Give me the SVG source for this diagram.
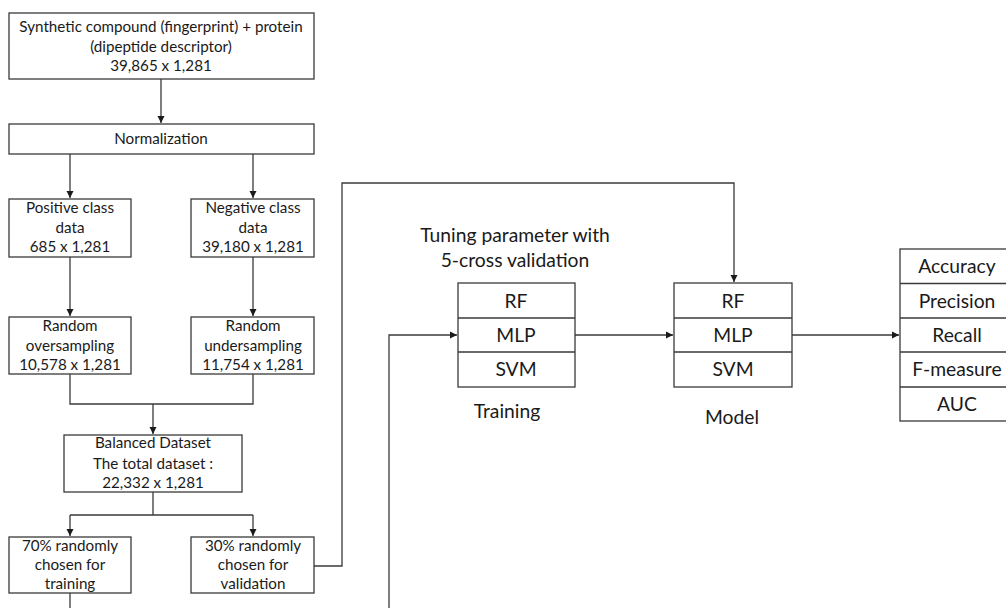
<svg xmlns="http://www.w3.org/2000/svg" width="1006" height="608" viewBox="0 0 1006 608">
<style>
.box{fill:#fff;stroke:#3a3a3a;stroke-width:1.3}
.t{font-family:Lato,"Open Sans","Liberation Sans",sans-serif;font-size:15.2px;fill:#1a1a1a;text-anchor:middle}
.l{font-family:Lato,"Open Sans","Liberation Sans",sans-serif;font-size:19.3px;fill:#1a1a1a;text-anchor:middle}
.c{fill:none;stroke:#3a3a3a;stroke-width:1.3}
</style>
<defs>
<marker id="ar" markerWidth="8" markerHeight="8" refX="7" refY="4" orient="auto" markerUnits="userSpaceOnUse">
<path d="M0,0.5 L7,4 L0,7.5 Z" fill="#1a1a1a"/>
</marker>
</defs>
<rect width="1006" height="608" fill="#fff"/>
<g id="connectors">
<path class="c" d="M161,79 V123" marker-end="url(#ar)"/>
<path class="c" d="M70,154 V198" marker-end="url(#ar)"/>
<path class="c" d="M253,154 V198" marker-end="url(#ar)"/>
<path class="c" d="M70,257 V316" marker-end="url(#ar)"/>
<path class="c" d="M253,257 V316" marker-end="url(#ar)"/>
<path class="c" d="M70,374 V404 H253 V374"/>
<path class="c" d="M153,404 V434" marker-end="url(#ar)"/>
<path class="c" d="M153,492 V515"/>
<path class="c" d="M70,515 H253"/>
<path class="c" d="M70,515 V536" marker-end="url(#ar)"/>
<path class="c" d="M253,515 V536" marker-end="url(#ar)"/>
<path class="c" d="M70,593 V608"/>
<path class="c" d="M314,566 H342 V183 H734 V282" marker-end="url(#ar)"/>
<path class="c" d="M389,608 V335 H457" marker-end="url(#ar)"/>
<path class="c" d="M575,335 H673" marker-end="url(#ar)"/>
<path class="c" d="M792,335 H899" marker-end="url(#ar)"/>
</g>
<g id="n1"><rect class="box" x="9" y="13" width="305" height="66"/>
<text class="t" x="161" y="32">Synthetic compound (fingerprint) + protein</text>
<text class="t" x="161" y="52">(dipeptide descriptor)</text>
<text class="t" x="161" y="71">39,865 x 1,281</text></g>
<g id="n2"><rect class="box" x="9" y="124" width="305" height="30"/>
<text class="t" x="161" y="144">Normalization</text></g>
<g id="n3"><rect class="box" x="9" y="199" width="122" height="58"/>
<text class="t" x="70" y="213">Positive class</text>
<text class="t" x="70" y="233">data</text>
<text class="t" x="70" y="252">685 x 1,281</text></g>
<g id="n4"><rect class="box" x="191" y="199" width="123" height="58"/>
<text class="t" x="253" y="213">Negative class</text>
<text class="t" x="253" y="233">data</text>
<text class="t" x="253" y="252">39,180 x 1,281</text></g>
<g id="n5"><rect class="box" x="9" y="317" width="122" height="57"/>
<text class="t" x="70" y="331">Random</text>
<text class="t" x="70" y="351">oversampling</text>
<text class="t" x="70" y="370">10,578 x 1,281</text></g>
<g id="n6"><rect class="box" x="191" y="317" width="123" height="57"/>
<text class="t" x="253" y="331">Random</text>
<text class="t" x="253" y="351">undersampling</text>
<text class="t" x="253" y="370">11,754 x 1,281</text></g>
<g id="n7"><rect class="box" x="64" y="435" width="178" height="57"/>
<text class="t" x="153" y="448">Balanced Dataset</text>
<text class="t" x="153" y="469">The total dataset :</text>
<text class="t" x="153" y="488">22,332 x 1,281</text></g>
<g id="n8"><rect class="box" x="9" y="537" width="122" height="56"/>
<text class="t" x="70" y="551">70% randomly</text>
<text class="t" x="70" y="570">chosen for</text>
<text class="t" x="70" y="589">training</text></g>
<g id="n9"><rect class="box" x="191" y="537" width="123" height="56"/>
<text class="t" x="253" y="551">30% randomly</text>
<text class="t" x="253" y="570">chosen for</text>
<text class="t" x="253" y="589">validation</text></g>
<g id="training">
<text class="l" x="515" y="242">Tuning parameter with</text>
<text class="l" x="515" y="267">5-cross validation</text>
<rect class="box" x="458" y="283" width="117" height="104"/>
<path class="c" d="M458,318 H575 M458,352 H575"/>
<text class="l" x="516" y="308">RF</text>
<text class="l" x="516" y="342">MLP</text>
<text class="l" x="516" y="376">SVM</text>
<text class="l" x="507" y="418">Training</text>
</g>
<g id="model">
<rect class="box" x="674" y="283" width="118" height="104"/>
<path class="c" d="M674,318 H792 M674,352 H792"/>
<text class="l" x="733" y="308">RF</text>
<text class="l" x="733" y="342">MLP</text>
<text class="l" x="733" y="376">SVM</text>
<text class="l" x="732" y="424">Model</text>
</g>
<g id="metrics">
<rect class="box" x="900" y="249" width="114" height="172"/>
<path class="c" d="M900,283.5 H1014 M900,318 H1014 M900,352 H1014 M900,387 H1014"/>
<text class="l" x="957" y="273">Accuracy</text>
<text class="l" x="957" y="308">Precision</text>
<text class="l" x="957" y="342">Recall</text>
<text class="l" x="957" y="376">F-measure</text>
<text class="l" x="957" y="411">AUC</text>
</g>
</svg>
